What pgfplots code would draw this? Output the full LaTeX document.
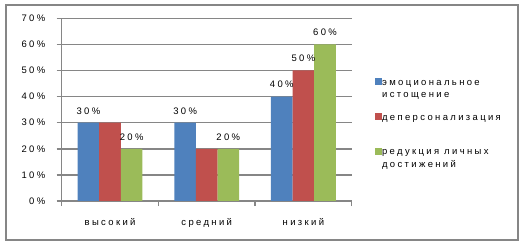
\documentclass[border=0pt]{standalone}
\usepackage{fontspec}
\setmainfont{Liberation Sans}[LetterSpace=25]
\usepackage{pgfplots}
\pgfplotsset{compat=1.18}
\definecolor{cB}{HTML}{4F81BD}
\definecolor{cR}{HTML}{C0504D}
\definecolor{cG}{HTML}{9BBB59}
\definecolor{gridc}{HTML}{868686}
\newcommand{\legtxt}[1]{\parbox[t]{130bp}{\fontsize{9.5}{12.5}\selectfont #1}}
\begin{document}
\begin{tikzpicture}
\useasboundingbox (0bp,0bp) rectangle (523bp,245bp);
\draw[gridc, line width=2bp] (6.3bp,4.8bp) rectangle (518.3bp,239.8bp);
\begin{axis}[
  at={(61.7bp,44bp)}, anchor=south west,
  scale only axis, width=290bp, height=182.7bp,
  font=\fontsize{9.5}{12}\selectfont,
  /pgf/number format/assume math mode=true,
  ybar=0pt, bar width=21.6bp,
  xmin=-0.5, xmax=2.5, ymin=0, ymax=70,
  xtick={-0.5,0.5,1.5,2.5}, xticklabels={,,,},
  extra x ticks={0,1,2},
  extra x tick labels={высокий,средний,низкий},
  extra x tick style={tick style={draw=none}, grid=none},
  xticklabel style={yshift=-9bp},
  ytick={0,10,...,70},
  yticklabel={\pgfmathprintnumber{\tick}\%},
  yticklabel style={xshift=-8bp},
  ymajorgrids, grid style={gridc, line width=1.5bp},
  axis line style={gridc, line width=1.2bp},
  axis x line*=bottom, axis y line*=left,
  tick align=outside, major tick length=5bp,
  tick style={gridc, line width=1.5bp},
  point meta=explicit symbolic,
  nodes near coords={\pgfplotspointmeta},
  every node near coord/.append style={yshift=5bp, font=\fontsize{9.5}{12}\selectfont},
  legend cell align=left,
  legend image code/.code={\fill[#1] (0bp,0bp) rectangle (7bp,7bp);},
  legend style={at={(rel axis cs:1.08,0.673)}, anchor=north west,
    draw=none, fill=none, inner sep=0pt, row sep=7.8bp,
    font=\fontsize{9.5}{12}\selectfont,
    cells={anchor=base west}, nodes={inner sep=0pt, text depth=20bp, text height=7bp},
    /tikz/every even column/.append style={column sep=3bp}},
]
\addplot[draw=none, fill=cB] coordinates {(0,30) [30\%] (1,30) [30\%] (2,40) [40\%]};
\addlegendentry{\legtxt{эмоциональное\\истощение}}
\addplot[draw=none, fill=cR] coordinates {(0,30) [] (1,20) [] (2,50) [50\%]};
\addlegendentry{\legtxt{деперсонализация}}
\addplot[draw=none, fill=cG] coordinates {(0,20) [20\%] (1,20) [20\%] (2,60) [60\%]};
\addlegendentry{\legtxt{редукция личных\\достижений}}
\end{axis}
\end{tikzpicture}
\end{document}
